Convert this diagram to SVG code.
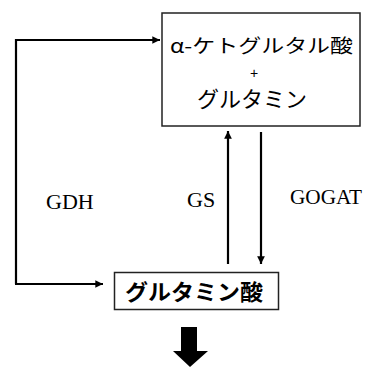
<svg xmlns="http://www.w3.org/2000/svg" width="370" height="367" viewBox="0 0 370 367">
<style>
.box{fill:#fff;stroke:#222;stroke-width:1.5}
.ln{fill:none;stroke:#000;stroke-width:2.2}
.lbl{font-family:"Liberation Serif","Times New Roman",serif;font-size:22px;fill:#000}
.jp{font-family:"Noto Sans CJK JP","Noto Sans",sans-serif;fill:#000;text-anchor:middle}
</style>
<defs>
<marker id="ah" viewBox="0 0 10 10" refX="10" refY="5" markerWidth="4" markerHeight="3.5" orient="auto" markerUnits="strokeWidth">
<path d="M0,0 L10,5 L0,10 z" fill="#000"/>
</marker>
</defs>
<g id="connectors">
<polyline class="ln" points="16,284 16,40 160,40" marker-end="url(#ah)"/>
<line class="ln" x1="15" y1="284" x2="103" y2="284" marker-end="url(#ah)"/>
<line class="ln" x1="228" y1="264" x2="228" y2="131" marker-end="url(#ah)"/>
<line class="ln" x1="261" y1="132" x2="261" y2="264" marker-end="url(#ah)"/>
<path d="M181,327 H197 V351 H208 L190,367 L173,351 H181 Z" fill="#000"/>
<text class="lbl" x="46" y="209">GDH</text>
<text class="lbl" x="187" y="207">GS</text>
<text class="lbl" x="290" y="204" textLength="72" lengthAdjust="spacingAndGlyphs">GOGAT</text>
</g>
<g id="node-top">
<rect class="box" x="162" y="13" width="198" height="113"/>
<text class="jp" x="261.5" y="53" font-size="19" textLength="183" lengthAdjust="spacingAndGlyphs">α-ケトグルタル酸</text>
<text x="254" y="78" font-size="14" fill="#000" text-anchor="middle" font-family="'Liberation Sans',Arial,sans-serif">+</text>
<text class="jp" x="252" y="107" font-size="22" textLength="110" lengthAdjust="spacingAndGlyphs">グルタミン</text>
</g>
<g id="node-bottom">
<rect class="box" x="114.5" y="272.5" width="164" height="37"/>
<text class="jp" x="194" y="300" font-size="22" font-weight="bold" textLength="138" lengthAdjust="spacingAndGlyphs">グルタミン酸</text>
</g>
</svg>
